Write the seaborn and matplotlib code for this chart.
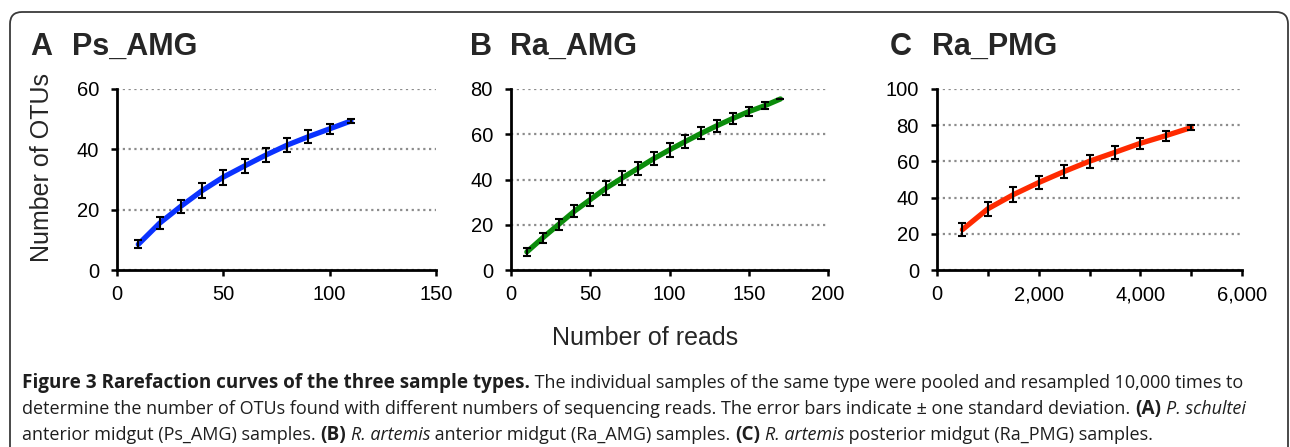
import matplotlib
matplotlib.use("Agg")
import matplotlib.pyplot as plt
import seaborn as sns
from matplotlib.patches import FancyBboxPatch
from matplotlib.transforms import IdentityTransform
from matplotlib.ticker import FuncFormatter, MultipleLocator

# Rarefaction data
ps_reads = [10, 20, 30, 40, 50, 60, 70, 80, 90, 100, 110]
ps_otus = [8.5, 15.5, 21.1, 26.3, 30.8, 34.5, 38.1, 41.4, 44.2, 46.8, 49.4]
ps_sd = [1.3, 2.0, 2.1, 2.5, 2.5, 2.4, 2.4, 2.4, 2.1, 1.7, 0.6]

ra_amg_reads = [10, 20, 30, 40, 50, 60, 70, 80, 90, 100, 110, 120, 130, 140, 150, 160, 170]
ra_amg_otus = [8.0, 14.2, 20.1, 26.0, 31.1, 36.2, 40.6, 44.9, 49.2, 53.1, 56.8, 60.4, 63.8, 67.0, 70.0, 72.6, 75.6]
ra_amg_sd = [1.7, 2.1, 2.4, 2.6, 2.8, 3.0, 3.0, 2.8, 2.9, 3.0, 3.0, 2.7, 2.7, 2.4, 2.0, 1.5, 0.0]

ra_pmg_reads = [500, 1000, 1500, 2000, 2500, 3000, 3500, 4000, 4500, 5000]
ra_pmg_otus = [22.3, 33.8, 41.6, 48.3, 54.4, 60.1, 65.0, 70.0, 74.2, 78.7]
ra_pmg_sd = [3.5, 3.7, 4.0, 3.7, 3.5, 3.7, 3.5, 3.2, 2.8, 1.5]

letters = ["A", "B", "C"]
names = ["Ps_AMG", "Ra_AMG", "Ra_PMG"]
colors = ["#0a32ff", "#0b8c0b", "#ff2a00"]

sns.set_style("white")
plt.rcParams['font.family'] = ['Liberation Sans', 'DejaVu Sans']

W, H = 1290, 447
fig = plt.figure(figsize=(12.9, 4.47), dpi=100)

# axes boxes in pixels: left, right, top, bottom
boxes = [(117, 436, 89, 270), (511, 828, 89, 270), (937, 1242, 89, 270)]
xlims = [(0, 150), (0, 200), (0, 6000)]
ylims = [(0, 60), (0, 80), (0, 100)]
xsteps = [50, 50, 2000]
ysteps = [20, 20, 20]
title_x = [(30, 72), (470, 510), (890, 932)]

data = [(ps_reads, ps_otus, ps_sd),
        (ra_amg_reads, ra_amg_otus, ra_amg_sd),
        (ra_pmg_reads, ra_pmg_otus, ra_pmg_sd)]

for i, (x, y, sd) in enumerate(data):
    l, r, t, b = boxes[i]
    ax = fig.add_axes([l / W, 1 - b / H, (r - l) / W, (b - t) / H])
    sns.lineplot(x=x, y=y, ax=ax, color=colors[i], lw=3.8, zorder=2)
    ax.errorbar(x, y, yerr=sd, fmt='none', ecolor='black', elinewidth=1.5,
                capsize=3, capthick=1.5, zorder=3)
    ax.set_xlim(*xlims[i])
    ax.set_ylim(*ylims[i])
    ax.xaxis.set_major_locator(MultipleLocator(xsteps[i]))
    ax.yaxis.set_major_locator(MultipleLocator(ysteps[i]))
    if i == 2:
        ax.xaxis.set_minor_locator(MultipleLocator(1000))
        ax.xaxis.set_major_formatter(FuncFormatter(lambda v, p: f"{int(v):,}"))
    for s in ["top", "right"]:
        ax.spines[s].set_visible(False)
    for s in ["left", "bottom"]:
        ax.spines[s].set_color("black")
        ax.spines[s].set_linewidth(2)
    ax.tick_params(which='both', bottom=True, left=True, direction='out',
                   length=4, width=1.8, colors='black', labelsize=14.5)
    ax.tick_params(axis='y', pad=9)
    ax.tick_params(axis='x', pad=7)
    ax.yaxis.grid(True, linestyle=(0, (1, 1.6)), color='#8c8c8c', lw=1.6)
    ax.xaxis.grid(False)
    ax.set_axisbelow(True)
    ax.set_xlabel("")
    ax.set_ylabel("")

    fig.text(title_x[i][0] / W, 1 - 55 / H, letters[i], fontsize=22,
             fontweight='bold', va='baseline')
    fig.text(title_x[i][1] / W, 1 - 55 / H, names[i], fontsize=22,
             fontweight='bold', va='baseline')

fig.text(42 / W, 1 - 167 / H, "Number of OTUs", rotation=90, fontsize=18,
         ha='center', va='center')
fig.text(645 / W, 1 - 338 / H, "Number of reads", fontsize=18,
         ha='center', va='center')

# frame around figure
frame = FancyBboxPatch((10, -30), 1278, 435 + 30, boxstyle="round,pad=0,rounding_size=12",
                       transform=IdentityTransform(), fill=False, ec='#3a3a3a', lw=1.3)
fig.add_artist(frame)

# caption with mixed styles
caption = [
    [("Figure 3 Rarefaction curves of the three sample types.", 'b'),
     (" The individual samples of the same type were pooled and resampled 10,000 times to", 'n')],
    [("determine the number of OTUs found with different numbers of sequencing reads. "
      "The error bars indicate \u00b1 one standard deviation. ", 'n'),
     ("(A)", 'b'), (" ", 'n'), ("P. schultei", 'i')],
    [("anterior midgut (Ps_AMG) samples. ", 'n'), ("(B)", 'b'), (" ", 'n'),
     ("R. artemis", 'i'), (" anterior midgut (Ra_AMG) samples. ", 'n'), ("(C)", 'b'),
     (" ", 'n'), ("R. artemis", 'i'), (" posterior midgut (Ra_PMG) samples.", 'n')],
]
styles = {'n': dict(fontweight='normal', fontstyle='normal'),
          'b': dict(fontweight='bold', fontstyle='normal'),
          'i': dict(fontweight='normal', fontstyle='italic')}
renderer = fig.canvas.get_renderer()
cap_font = ['Open Sans', 'DejaVu Sans']


def seg_width(s, size, st):
    t1 = fig.text(0, 0, "|" + s + "|", fontsize=size, family=cap_font, **styles[st])
    t2 = fig.text(0, 0, "||", fontsize=size, family=cap_font, **styles[st])
    w = t1.get_window_extent(renderer).width - t2.get_window_extent(renderer).width
    t1.remove()
    t2.remove()
    return w


base = 12
# reference widths: bold lead-in ~508 px, plain rest of line 1 ~728 px,
# plain start of line 2 ~1086 px
size_b = base * 508 / seg_width(caption[0][0][0], base, 'b')
s1 = base * 728 / seg_width(caption[0][1][0], base, 'n')
s2 = base * 1086 / seg_width(caption[1][0][0], base, 'n')
size_n = (s1 + s2) / 2
sizes = {'b': size_b, 'n': size_n, 'i': size_n}
line_y = [383, 409, 435]
for line, yy in zip(caption, line_y):
    xx = 22
    for s, st in line:
        fig.text(xx / W, 1 - yy / H, s, fontsize=sizes[st], family=cap_font,
                 va='center', color='#1e1e1e', **styles[st])
        xx += seg_width(s, sizes[st], st)

fig.savefig("out.png", dpi=100)
